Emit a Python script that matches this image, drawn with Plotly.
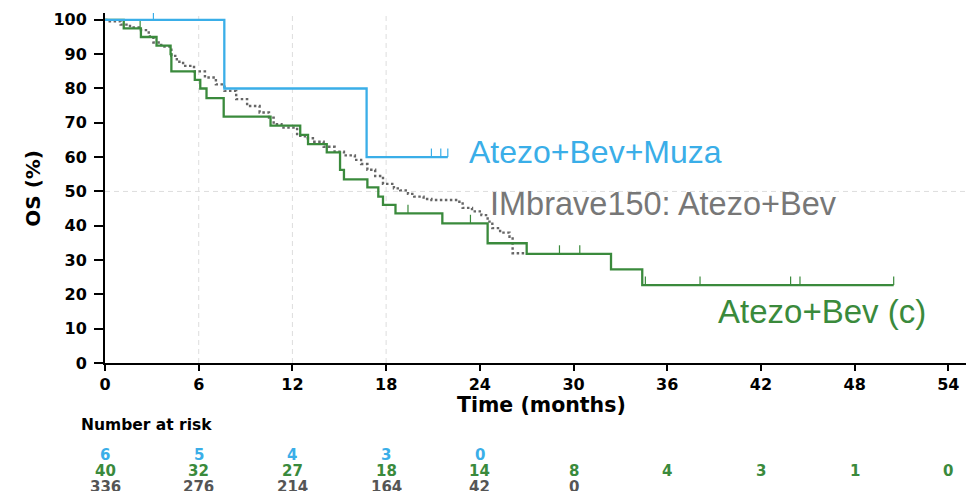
import plotly.graph_objects as go

# Kaplan-Meier step points: time (months) and overall survival (%)
muza_t = [0, 7.64, 16.75, 21.95]
muza_s = [100, 80, 60, 60]
muza_cens = [3.1, 20.9, 21.5, 21.95]

bev_t = [0, 1.2, 2.3, 3.3, 4.2, 4.25, 5.75, 6.1, 6.5, 7.6, 10.6, 12.5, 13.0, 14.2,
         15.05, 15.3, 16.8, 17.5, 17.8, 18.6, 21.6, 24.5, 27.0, 32.4, 34.4, 50.5]
bev_s = [100, 97.5, 95, 92.5, 90, 85, 82.5, 80, 77.2, 71.8, 69.2, 66.5, 63.8, 61.4,
         56.3, 53.5, 51.2, 48.5, 46.1, 43.6, 40.7, 34.9, 31.8, 27.3, 22.7, 22.7]
bev_cens = [2.25, 19.4, 23.4, 29.1, 30.4, 34.6, 38.1, 43.9, 44.5, 50.5]

imb_t = [0, 0.3, 1.0, 1.6, 2.3, 2.8, 3.1, 3.6, 4.25, 4.6, 5.0, 5.7, 6.4, 7.1, 7.65,
         8.4, 9.1, 9.9, 10.5, 10.8, 11.3, 12.3, 12.8, 13.4, 14.0, 14.7, 15.3, 16.0,
         16.4, 16.8, 17.3, 17.8, 18.5, 18.9, 19.4, 19.8, 20.4, 20.9, 22.6, 22.9, 23.5,
         24.1, 24.5, 24.8, 25.3, 25.9, 26.1, 27.0]
imb_s = [100, 99.6, 98.6, 97.8, 97.0, 95.2, 93.4, 92.2, 89.5, 87.8, 86.6, 85.0, 83.2,
         81.2, 79.3, 76.9, 74.9, 73.0, 71.5, 69.6, 68.6, 66.2, 65.5, 64.5, 63.0, 61.6,
         60.5, 59.2, 58.0, 56.3, 54.5, 52.2, 50.9, 50.3, 49.3, 48.5, 47.8, 47.5, 47.0,
         45.2, 44.2, 43.1, 41.2, 39.3, 38.0, 36.8, 32.0, 32.0]

# Number at risk table
risk_times = [0, 6, 12, 18, 24, 30, 36, 42, 48, 54]
risk_muza = [6, 5, 4, 3, 0]
risk_bev = [40, 32, 27, 18, 14, 8, 4, 3, 1, 0]
risk_imb = [336, 276, 214, 164, 42, 0]

x_ticks = list(range(0, 55, 6))
y_ticks = list(range(0, 101, 10))
grid_x = [6, 12, 18]
grid_y = [50]

BLUE = "#3AAEE8"
GREEN = "#3A8A3C"
GRAY = "#666666"
TXT_GRAY = "#777777"
BOLD = dict(family="DejaVu Sans", color="black", weight="bold")
CENSOR_H = 2.5


def surv_at(t, ts, ss):
    s = ss[0]
    for ti, si in zip(ts, ss):
        if ti <= t:
            s = si
    return s


def censor_xy(times, ts, ss):
    xs, ys = [], []
    for t in times:
        s = surv_at(t, ts, ss)
        xs += [t, t, None]
        ys += [s, s + CENSOR_H, None]
    return xs, ys


fig = go.Figure()

fig.add_trace(go.Scatter(x=imb_t, y=imb_s, mode="lines", line_shape="hv",
                         line=dict(color=GRAY, width=2.4, dash="2.5px,2.5px"),
                         showlegend=False))

for ts, ss, cens, col in [(bev_t, bev_s, bev_cens, GREEN),
                          (muza_t, muza_s, muza_cens, BLUE)]:
    fig.add_trace(go.Scatter(x=ts, y=ss, mode="lines", line_shape="hv",
                             line=dict(color=col, width=2.3), showlegend=False))
    cx, cy = censor_xy(cens, ts, ss)
    fig.add_trace(go.Scatter(x=cx, y=cy, mode="lines",
                             line=dict(color=col, width=1.2), showlegend=False))

shapes = []
for gx in grid_x:
    shapes.append(dict(type="line", xref="x", yref="paper", x0=gx, x1=gx, y0=0, y1=1,
                       line=dict(color="#DDDDDD", width=1, dash="5px,4px"), layer="below"))
for gy in grid_y:
    shapes.append(dict(type="line", xref="paper", yref="y", x0=0, x1=1, y0=gy, y1=gy,
                       line=dict(color="#DDDDDD", width=1, dash="5px,4px"), layer="below"))

ann = []
# curve labels
label_font = "Liberation Sans, Arial, sans-serif"
ann.append(dict(x=23.18, y=61.6, xref="x", yref="y", text="Atezo+Bev+Muza",
                xanchor="left", yanchor="middle", showarrow=False,
                font=dict(family=label_font, size=32, color=BLUE)))
ann.append(dict(x=24.5, y=46.4, xref="x", yref="y", text="IMbrave150: Atezo+Bev",
                xanchor="left", yanchor="middle", showarrow=False,
                font=dict(family=label_font, size=32.5, color=TXT_GRAY)))
ann.append(dict(x=39.1, y=14.9, xref="x", yref="y", text="Atezo+Bev (c)",
                xanchor="left", yanchor="middle", showarrow=False,
                font=dict(family=label_font, size=33, color=GREEN)))

# axis titles and risk table header (paper coordinates of the plot area)
ann.append(dict(x=-0.0836, y=0.498, xref="paper", yref="paper", text="OS (%)",
                textangle=-90, xanchor="center", yanchor="middle", showarrow=False,
                font=dict(BOLD, size=20)))
ann.append(dict(x=0.5075, y=-0.121, xref="paper", yref="paper", text="Time (months)",
                xanchor="center", yanchor="middle", showarrow=False, borderpad=0,
                font=dict(BOLD, size=20.5)))
ann.append(dict(x=-0.0302, y=-0.1763, xref="paper", yref="paper", text="Number at risk",
                xanchor="left", yanchor="middle", showarrow=False,
                font=dict(BOLD, size=15.5)))

for vals, col, yy in [(risk_muza, BLUE, -0.262), (risk_bev, GREEN, -0.3077),
                      (risk_imb, "#555555", -0.3534)]:
    for t, v in zip(risk_times, vals):
        ann.append(dict(x=t, y=yy, xref="x", yref="paper", text=str(v),
                        xanchor="center", yanchor="middle", showarrow=False,
                        borderpad=0,
                        font=dict(family="DejaVu Sans", size=15, color=col,
                                  weight="bold")))

axis_common = dict(showgrid=False, zeroline=False, showline=True, linecolor="black",
                   linewidth=2, ticks="outside", tickwidth=2,
                   tickcolor="black", tickfont=dict(BOLD, size=16))

fig.update_layout(
    width=966, height=491,
    margin=dict(l=105, r=0, t=13, b=128),
    paper_bgcolor="white", plot_bgcolor="white",
    xaxis=dict(axis_common, range=[0, 55.13], tickvals=x_ticks, ticklen=6),
    yaxis=dict(axis_common, range=[0, 102], tickvals=y_ticks, ticklen=9,
               ticklabelstandoff=4),
    shapes=shapes, annotations=ann, showlegend=False,
)

fig.write_html("out.html")
